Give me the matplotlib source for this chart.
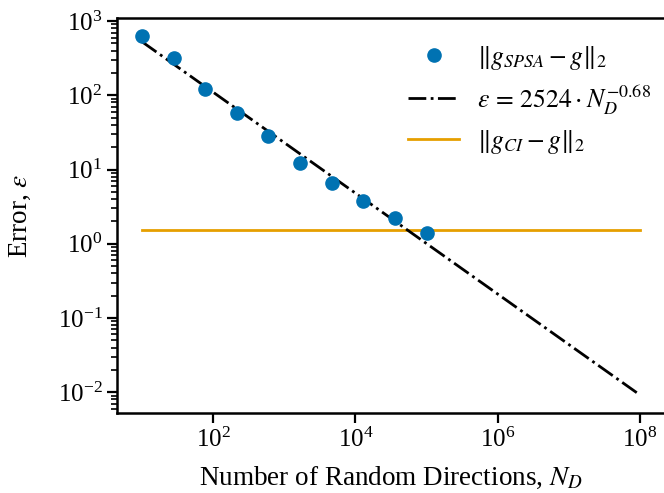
import numpy as np
import matplotlib
matplotlib.use("Agg")
import matplotlib.pyplot as plt
from matplotlib.ticker import NullLocator

# Data
n_directions = [10, 27.8, 77.4, 215, 599, 1668, 4642, 12915, 35938, 100000]
spsa_error = [630, 322, 122, 57, 27.9, 12.4, 6.5, 3.75, 2.22, 1.40]
ci_error = 1.55
fit_coef = 2524
fit_exp = -0.68
fit_range = [10, 1e8]
x_ticks = [1e2, 1e4, 1e6, 1e8]

plt.rcParams['font.family'] = ['Liberation Serif', 'DejaVu Serif']
plt.rcParams['mathtext.fontset'] = 'stix'
plt.rcParams['font.size'] = 18

fig = plt.figure(figsize=(6.64, 4.93), dpi=100)
ax = fig.add_axes([117/664, (493-413)/493, (665-117)/664, (413-18)/493])

fit_x = np.array(fit_range)
fit_y = fit_coef * fit_x ** fit_exp

ax.plot(n_directions, spsa_error, 'o', color='#0072B2', markersize=9.5,
        label=r'$\|g_{SPSA}-g\|_2$', zorder=3)
ax.plot(fit_x, fit_y, color='black', linestyle='-.', linewidth=2,
        label=r'$\varepsilon\,=\,2524 \cdot N_D^{-0.68}$', zorder=2)
ax.plot(fit_range, [ci_error, ci_error], color='#E69F00', linewidth=2,
        label=r'$\|g_{CI}-g\|_2$', zorder=1)

ax.set_xscale('log')
ax.set_yscale('log')
ax.set_xticks(x_ticks)
ax.xaxis.set_minor_locator(NullLocator())
ax.set_xlabel(r'Number of Random Directions, $N_D$', fontsize=19.5, labelpad=9)
ax.set_ylabel(r'Error, $\varepsilon$', fontsize=19.5, labelpad=18)

for s in ax.spines.values():
    s.set_linewidth(1.8)
ax.tick_params(which='major', length=7, width=1.6, labelsize=18)
ax.tick_params(which='minor', length=4, width=1.2)

ax.legend(loc='upper right', frameon=False, fontsize=18.5, handlelength=2.0,
          labelspacing=0.45, handletextpad=0.7, borderaxespad=0.6,
          bbox_to_anchor=(1.022, 1.0))

fig.savefig('out.png', dpi=100)
